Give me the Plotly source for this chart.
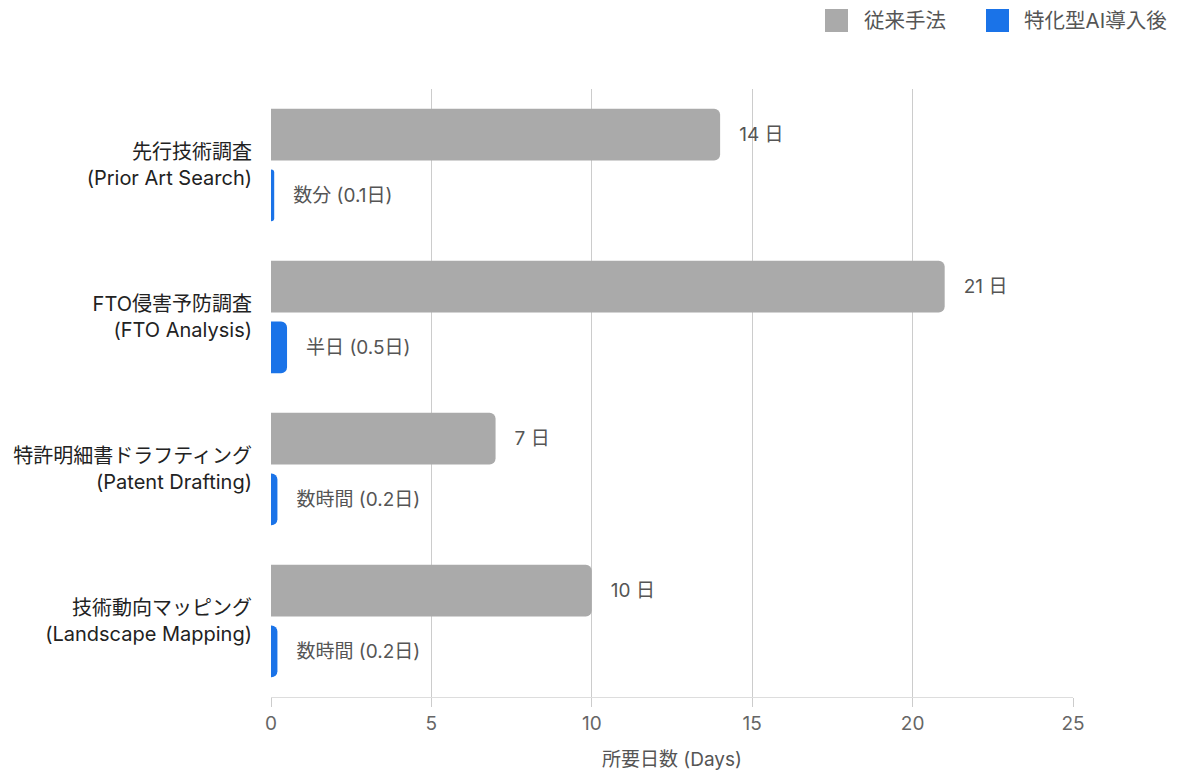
import plotly.graph_objects as go

categories = [
    "先行技術調査<br>(Prior Art Search)",
    "FTO侵害予防調査<br>(FTO Analysis)",
    "特許明細書ドラフティング<br>(Patent Drafting)",
    "技術動向マッピング<br>(Landscape Mapping)",
]
series_names = ["従来手法", "特化型AI導入後"]
traditional_days = [14, 21, 7, 10]
ai_days = [0.1, 0.5, 0.2, 0.2]
traditional_labels = ["14 日", "21 日", "7 日", "10 日"]
ai_labels = ["数分 (0.1日)", "半日 (0.5日)", "数時間 (0.2日)", "数時間 (0.2日)"]
x_ticks = [0, 5, 10, 15, 20, 25]

GRAY = "#aaaaaa"
BLUE = "#1a73e8"
FONT = "Inter, 'Noto Sans CJK JP', sans-serif"
pad = "\u00a0\u00a0\u00a0"

fig = go.Figure()
fig.add_trace(go.Bar(
    y=categories, x=traditional_days, orientation="h", name=series_names[0],
    marker=dict(color=GRAY, line=dict(width=0)),
    text=[pad + t for t in traditional_labels], textposition="outside",
    textfont=dict(size=19, color="#555555", family=FONT),
    constraintext="none", cliponaxis=False, showlegend=False,
))
fig.add_trace(go.Bar(
    y=categories, x=ai_days, orientation="h", name=series_names[1],
    marker=dict(color=BLUE, line=dict(width=0)),
    text=[pad + t for t in ai_labels], textposition="outside",
    textfont=dict(size=19, color="#555555", family=FONT),
    constraintext="none", cliponaxis=False, showlegend=False,
))

# legend drawn manually
legend_items = [(series_names[0], GRAY, 825, 862), (series_names[1], BLUE, 986, 1022)]
W, H = 1179, 771
for name, color, sx, tx in legend_items:
    fig.add_shape(type="rect", xref="paper", yref="paper",
                  x0=(sx - 271) / 802, x1=(sx + 23 - 271) / 802,
                  y0=(697 - 32) / 608, y1=(697 - 9) / 608,
                  fillcolor=color, line=dict(width=0), layer="above")
    fig.add_annotation(xref="paper", yref="paper", x=(tx - 271) / 802, y=(697 - 20.5) / 608,
                       text=name, showarrow=False, xanchor="left", yanchor="middle",
                       font=dict(size=20.5, color="#555555", family=FONT))

fig.update_layout(
    width=W, height=H,
    margin=dict(l=271, r=106, t=89, b=74),
    barmode="group", bargap=0.2, bargroupgap=0.15, barcornerradius=6,
    plot_bgcolor="white", paper_bgcolor="white",
    font=dict(family=FONT, size=16, color="#222222"),
    xaxis=dict(
        range=[0, 25], tickvals=x_ticks, showgrid=True, gridcolor="#cccccc", gridwidth=1,
        zeroline=False, showline=True, linecolor="#dddddd", linewidth=1,
        ticks="outside", ticklen=9, tickcolor="#cccccc",
        tickfont=dict(size=19, color="#666666"), automargin=False,
        title=dict(text="所要日数 (Days)", font=dict(size=19, color="#555555"), standoff=18),
    ),
    yaxis=dict(
        autorange="reversed", showgrid=False, showline=False, ticks="",
        tickfont=dict(size=20, color="#222222"), ticklabelstandoff=18, automargin=False,
    ),
)

fig.write_html("out.html")
